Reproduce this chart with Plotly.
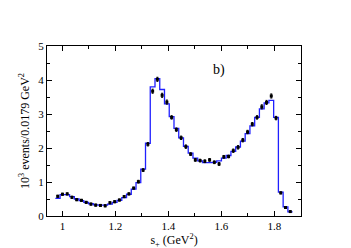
import plotly.graph_objects as go

bin_width = 0.0179
x_first = 0.9824

data_vals = [0.58, 0.64, 0.65, 0.55, 0.48, 0.46, 0.40, 0.35, 0.32, 0.31,
             0.30, 0.39, 0.42, 0.47, 0.57, 0.65, 0.82, 1.01, 1.35, 2.11,
             3.67, 4.02, 3.55, 3.35, 2.90, 2.54, 2.30, 2.04, 1.82, 1.65,
             1.63, 1.61, 1.65, 1.58, 1.53, 1.74, 1.75, 1.92, 2.02, 2.23,
             2.47, 2.70, 2.90, 3.21, 3.34, 3.53, 2.88, 0.68, 0.25, 0.13]

data_errs = [0.03, 0.03, 0.03, 0.03, 0.03, 0.03, 0.03, 0.03, 0.03, 0.03,
             0.03, 0.03, 0.03, 0.03, 0.03, 0.03, 0.03, 0.04, 0.04, 0.05,
             0.06, 0.06, 0.06, 0.06, 0.05, 0.05, 0.05, 0.05, 0.04, 0.04,
             0.04, 0.04, 0.04, 0.04, 0.04, 0.04, 0.04, 0.05, 0.05, 0.05,
             0.05, 0.05, 0.05, 0.06, 0.06, 0.06, 0.05, 0.03, 0.02, 0.02]

model_vals = [0.52, 0.63, 0.63, 0.57, 0.50, 0.45, 0.40, 0.36, 0.33, 0.32,
              0.32, 0.35, 0.40, 0.46, 0.54, 0.64, 0.79, 0.98, 1.38, 2.14,
              3.80, 4.04, 3.72, 3.30, 2.92, 2.58, 2.30, 2.05, 1.85, 1.70,
              1.62, 1.57, 1.57, 1.58, 1.62, 1.70, 1.78, 1.90, 2.03, 2.20,
              2.42, 2.65, 2.90, 3.15, 3.33, 3.40, 2.90, 0.70, 0.27, 0.12]

x_tickvals = [1.0, 1.2, 1.4, 1.6, 1.8]
x_ticktext = ["1", "1.2", "1.4", "1.6", "1.8"]
y_tickvals = [0, 1, 2, 3, 4, 5]
y_ticktext = ["0", "1", "2", "3", "4", "5"]

centers = [x_first + bin_width * i for i in range(len(data_vals))]
edges = [x_first - bin_width / 2 + bin_width * i for i in range(len(model_vals) + 1)]
step_y = model_vals + [model_vals[-1]]

FONT = "Liberation Serif, Times New Roman, serif"

fig = go.Figure()
fig.add_trace(go.Scatter(
    x=edges, y=step_y, mode="lines", line=dict(color="#2020ff", width=1.3, shape="hv"),
    hoverinfo="skip", showlegend=False))
fig.add_trace(go.Scatter(
    x=centers, y=data_vals, mode="markers",
    marker=dict(symbol="square", size=3, color="black"),
    error_y=dict(type="data", array=data_errs, color="black", thickness=1, width=1),
    showlegend=False))

fig.add_annotation(x=1.592, y=4.28, text="b)", showarrow=False,
                   font=dict(family=FONT, size=14, color="black"))

axis_common = dict(showline=True, linecolor="black", linewidth=1, mirror="ticks",
                   ticks="inside", ticklen=5, tickcolor="black", tickwidth=1,
                   showgrid=False, zeroline=False,
                   tickfont=dict(family=FONT, size=11, color="black"))

fig.update_xaxes(range=[0.942, 1.9], tickvals=x_tickvals, ticktext=x_ticktext,
                 minor=dict(dtick=0.1, tick0=0.9, ticks="inside", ticklen=3,
                            tickcolor="black", showgrid=False),
                 title=dict(text="s<sub>+</sub> (GeV<sup>2</sup>)",
                            font=dict(family=FONT, size=12, color="black"), standoff=3),
                 **axis_common)
fig.update_yaxes(range=[0, 5], tickvals=y_tickvals, ticktext=y_ticktext,
                 minor=dict(dtick=0.5, tick0=0, ticks="inside", ticklen=3,
                            tickcolor="black", showgrid=False),
                 title=dict(text="10<sup>3</sup> events/0.0179 GeV<sup>2</sup>",
                            font=dict(family=FONT, size=12, color="black"), standoff=6),
                 **axis_common)

fig.update_layout(width=351, height=248, margin=dict(l=39, r=58, t=38, b=32, pad=0),
                  paper_bgcolor="white", plot_bgcolor="white")

fig.write_html("out.html")
